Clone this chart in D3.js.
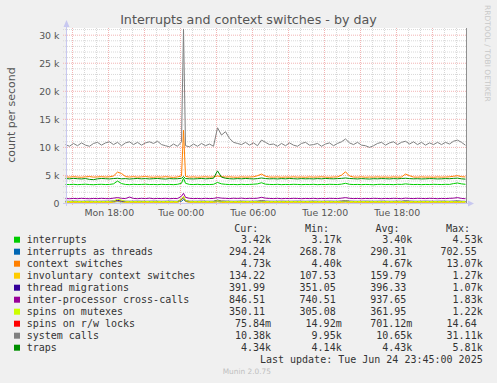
<!DOCTYPE html>
<html><head><meta charset="utf-8">
<script src="https://cdn.jsdelivr.net/npm/d3@7"></script>
<style>body{margin:0;background:#f0f0f0}svg{display:block}</style>
</head><body><svg id="c" width="497" height="383"></svg>
<script>
// ---------- data ----------
const startTime = new Date(2025, 5, 23, 14, 25); // Mon 14:25
const endTime = new Date(2025, 5, 24, 23, 45);   // Tue 23:45
// sample offsets (minutes from start): every 20 min plus the 00:15 spike sample
const sampleMinutes = [...d3.range(0, 581, 20), 590, ...d3.range(600, 2001, 20)];

const interruptsK = [
 3.40,3.38,3.42,3.36,3.40,3.44,3.38,3.35,3.40,3.42,
 3.38,3.40,3.50,4.00,3.55,3.40,3.36,3.42,3.38,3.40,
 3.44,3.38,3.40,3.36,3.42,3.38,3.40,3.36,3.42,3.60,
 4.53,
 3.60,3.40,3.38,3.42,3.36,3.40,3.38,3.42,3.75,3.50,
 3.42,3.38,3.40,3.36,3.42,3.38,3.40,3.44,3.50,3.70,
 3.45,3.40,3.38,3.42,3.36,3.40,3.38,3.42,3.40,3.36,
 3.40,3.38,3.42,3.36,3.40,3.38,3.42,3.40,3.38,3.45,
 3.60,3.42,3.38,3.40,3.36,3.40,3.38,3.34,3.40,3.42,
 3.38,3.40,3.36,3.42,3.40,3.50,3.42,3.38,3.40,3.36,
 3.40,3.38,3.42,3.40,3.38,3.42,3.40,3.55,3.65,3.50,
 3.42];
const threadsK = [
 0.29,0.29,0.30,0.29,0.28,0.29,0.29,0.30,0.29,0.29,
 0.29,0.28,0.29,0.33,0.30,0.29,0.29,0.28,0.29,0.29,
 0.30,0.29,0.29,0.28,0.29,0.29,0.30,0.29,0.29,0.40,
 0.70,
 0.35,0.29,0.29,0.28,0.29,0.30,0.29,0.29,0.34,0.30,
 0.29,0.29,0.28,0.29,0.30,0.29,0.29,0.28,0.29,0.31,
 0.29,0.29,0.30,0.29,0.28,0.29,0.29,0.30,0.29,0.29,
 0.28,0.29,0.29,0.30,0.29,0.29,0.28,0.29,0.29,0.30,
 0.32,0.29,0.29,0.28,0.29,0.29,0.30,0.29,0.29,0.28,
 0.29,0.29,0.30,0.29,0.29,0.31,0.29,0.28,0.29,0.29,
 0.29,0.30,0.29,0.28,0.29,0.29,0.30,0.29,0.31,0.29,
 0.29];
const contextSwitchesK = [
 4.75,4.70,4.78,4.72,4.68,4.75,4.80,4.70,4.74,4.78,
 4.72,4.76,4.90,5.60,5.35,4.80,4.72,4.78,4.70,4.75,
 4.80,4.72,4.68,4.75,4.70,4.78,4.72,4.66,4.74,4.90,
 13.07,
 4.85,4.70,4.74,4.68,4.72,4.76,4.70,4.74,4.90,4.78,
 4.72,4.75,4.70,4.68,4.74,4.70,4.72,4.76,4.95,5.25,
 4.85,4.72,4.70,4.74,4.68,4.72,4.70,4.75,4.70,4.72,
 4.68,4.74,4.70,4.72,4.76,4.70,4.68,4.72,4.74,5.05,
 5.65,4.90,4.72,4.70,4.75,4.68,4.72,4.70,4.74,4.70,
 4.72,4.68,4.74,4.70,4.72,5.25,4.95,4.72,4.70,4.74,
 4.70,4.72,4.68,4.74,4.70,4.72,4.76,4.85,4.95,4.78,
 4.73];
const involuntaryK = [
 0.16,0.15,0.17,0.16,0.15,0.16,0.17,0.15,0.16,0.16,
 0.15,0.16,0.22,0.45,0.30,0.16,0.15,0.16,0.17,0.15,
 0.16,0.15,0.16,0.17,0.15,0.16,0.15,0.16,0.16,0.60,
 1.27,
 0.40,0.17,0.16,0.15,0.16,0.15,0.16,0.17,0.30,0.18,
 0.16,0.15,0.16,0.17,0.15,0.16,0.15,0.16,0.17,0.22,
 0.16,0.15,0.16,0.15,0.16,0.17,0.15,0.16,0.15,0.16,
 0.15,0.16,0.17,0.15,0.16,0.15,0.16,0.15,0.16,0.18,
 0.24,0.16,0.15,0.16,0.15,0.16,0.17,0.15,0.16,0.15,
 0.16,0.15,0.16,0.17,0.15,0.20,0.16,0.15,0.16,0.15,
 0.16,0.15,0.16,0.15,0.16,0.17,0.15,0.16,0.18,0.15,
 0.13];
const migrationsK = [
 0.40,0.39,0.41,0.40,0.39,0.40,0.41,0.40,0.39,0.40,
 0.41,0.40,0.45,0.55,0.44,0.40,0.39,0.40,0.41,0.40,
 0.39,0.40,0.41,0.40,0.39,0.40,0.41,0.40,0.39,0.70,
 1.07,
 0.50,0.40,0.39,0.40,0.41,0.40,0.39,0.40,0.60,0.44,
 0.42,0.40,0.39,0.40,0.41,0.40,0.39,0.40,0.42,0.50,
 0.42,0.40,0.39,0.40,0.41,0.40,0.39,0.40,0.41,0.40,
 0.39,0.40,0.41,0.40,0.39,0.40,0.41,0.40,0.39,0.44,
 0.50,0.42,0.40,0.39,0.40,0.41,0.40,0.39,0.40,0.41,
 0.40,0.39,0.40,0.41,0.40,0.48,0.42,0.40,0.39,0.40,
 0.41,0.40,0.39,0.40,0.41,0.40,0.39,0.42,0.45,0.40,
 0.39];
const crossCallsK = [
 0.88,0.85,0.90,0.86,0.92,0.88,0.85,0.90,0.87,0.92,
 0.88,0.86,0.95,1.05,0.92,0.88,1.15,0.90,0.86,0.92,
 0.88,0.95,0.86,0.90,0.88,0.92,0.86,0.90,0.88,1.30,
 1.83,
 1.10,0.92,0.88,0.90,0.86,0.92,0.88,0.90,1.05,0.95,
 0.92,0.88,0.94,0.90,0.95,0.88,0.92,0.90,0.94,1.10,
 0.95,0.90,0.88,0.92,0.86,0.90,0.88,0.92,0.90,0.86,
 0.90,0.88,0.92,0.86,0.90,0.88,0.92,0.90,0.88,0.95,
 1.05,0.92,0.88,0.90,0.86,0.90,0.88,0.92,0.90,0.86,
 0.90,0.88,0.92,0.90,0.86,0.95,0.90,0.88,0.92,0.90,
 0.88,0.92,0.90,0.86,0.90,0.88,0.92,0.95,1.05,0.90,
 0.85];
const mutexesK = [
 0.36,0.35,0.37,0.36,0.35,0.36,0.37,0.35,0.36,0.36,
 0.35,0.36,0.45,0.75,0.60,0.38,0.36,0.35,0.36,0.37,
 0.36,0.35,0.36,0.37,0.35,0.36,0.35,0.36,0.36,0.80,
 1.22,
 0.55,0.37,0.36,0.35,0.36,0.35,0.36,0.37,0.50,0.40,
 0.37,0.36,0.35,0.36,0.37,0.35,0.36,0.35,0.37,0.42,
 0.36,0.35,0.36,0.35,0.36,0.37,0.35,0.36,0.35,0.36,
 0.35,0.36,0.37,0.35,0.36,0.35,0.36,0.35,0.36,0.38,
 0.44,0.36,0.35,0.36,0.35,0.36,0.37,0.35,0.36,0.35,
 0.36,0.35,0.36,0.37,0.35,0.40,0.36,0.35,0.36,0.35,
 0.36,0.35,0.36,0.35,0.36,0.37,0.35,0.36,0.38,0.36,
 0.35];
const rwLocksK = [
 0.0007,0.0006,0.0008,0.0007,0.0005,0.0007,0.0008,0.0006,0.0007,0.0007,
 0.0006,0.0007,0.0009,0.0030,0.0012,0.0007,0.0006,0.0007,0.0008,0.0006,
 0.0007,0.0006,0.0007,0.0008,0.0006,0.0007,0.0006,0.0007,0.0007,0.0060,
 0.0146,
 0.0020,0.0007,0.0006,0.0007,0.0008,0.0006,0.0007,0.0006,0.0015,0.0008,
 0.0007,0.0006,0.0007,0.0008,0.0006,0.0007,0.0006,0.0007,0.0008,0.0010,
 0.0007,0.0006,0.0007,0.0006,0.0007,0.0008,0.0006,0.0007,0.0006,0.0007,
 0.0006,0.0007,0.0008,0.0006,0.0007,0.0006,0.0007,0.0006,0.0007,0.0009,
 0.0011,0.0007,0.0006,0.0007,0.0006,0.0007,0.0008,0.0006,0.0007,0.0006,
 0.0007,0.0006,0.0007,0.0008,0.0006,0.0009,0.0007,0.0006,0.0007,0.0006,
 0.0007,0.0006,0.0007,0.0006,0.0007,0.0008,0.0006,0.0007,0.0009,0.0007,
 0.0001];
const systemCallsK = [
 10.5,10.2,10.7,10.3,10.8,10.4,10.2,10.7,10.9,10.4,
 10.8,11.0,10.5,10.9,10.3,10.8,11.0,10.5,10.9,10.4,
 10.8,11.0,10.7,11.1,10.5,10.3,10.1,10.6,10.2,11.0,
 31.11,
 10.3,10.1,10.6,10.2,10.7,10.3,10.6,10.2,13.5,12.2,
 12.8,11.6,10.9,10.7,10.5,10.9,10.4,10.8,10.3,11.3,
 10.9,10.5,10.6,10.2,10.7,10.3,10.8,10.4,10.2,10.7,
 10.9,10.4,10.5,10.7,10.2,10.6,10.8,10.3,10.7,11.0,
 11.5,10.8,10.5,10.9,10.4,10.3,10.0,10.3,10.7,10.9,
 10.4,10.8,11.0,10.5,10.9,11.1,10.6,11.0,10.5,10.9,
 10.4,10.8,10.5,10.9,10.5,10.9,10.6,11.1,11.3,10.9,
 10.38];
const trapsK = [
 4.45,4.40,4.48,4.42,4.38,4.45,4.30,4.25,4.40,4.46,
 4.42,4.38,4.45,4.50,4.40,4.44,4.36,4.42,4.46,4.40,
 4.44,4.38,4.42,4.46,4.40,4.36,4.44,4.40,4.42,4.50,
 4.80,
 4.45,4.40,4.38,4.42,4.46,4.40,4.44,4.50,5.81,4.70,
 4.50,4.42,4.38,4.44,4.40,4.46,4.42,4.38,4.44,4.55,
 4.45,4.40,4.42,4.38,4.44,4.40,4.46,4.42,4.38,4.44,
 4.40,4.42,4.38,4.44,4.40,4.46,4.42,4.40,4.44,4.48,
 4.55,4.46,4.42,4.38,4.44,4.40,4.36,4.42,4.40,4.44,
 4.42,4.38,4.44,4.40,4.46,4.50,4.44,4.40,4.42,4.38,
 4.40,4.44,4.42,4.38,4.40,4.44,4.42,4.48,4.52,4.40,
 4.34];

const seriesNames = ["interrupts","interrupts as threads","context switches",
  "involuntary context switches","thread migrations","inter-processor cross-calls",
  "spins on mutexes","spins on r/w locks","system calls","traps"];
const seriesColors = ["#00cc00","#0066b3","#ff8000","#ffcc00","#330099","#990099",
  "#ccff00","#ff0000","#808080","#008f00"];
const seriesValues = [interruptsK, threadsK, contextSwitchesK, involuntaryK, migrationsK,
  crossCallsK, mutexesK, rwLocksK, systemCallsK, trapsK];

const curValues = ["3.42k","294.24","4.73k","134.22","391.99","846.51","350.11","75.84m","10.38k","4.34k"];
const minValues = ["3.17k","268.78","4.40k","107.53","351.05","740.51","305.08","14.92m","9.95k","4.14k"];
const avgValues = ["3.40k","290.31","4.67k","159.79","396.33","937.65","361.95","701.12m","10.65k","4.43k"];
const maxValues = ["4.53k","702.55","13.07k","1.27k","1.07k","1.83k","1.22k","14.64","31.11k","5.81k"];
const columnHeaders = ["Cur:","Min:","Avg:","Max:"];

const yTicksK = [0,5,10,15,20,25,30];
const yTickLabels = ["0","5 k","10 k","15 k","20 k","25 k","30 k"];
const xLabelTimes = [new Date(2025,5,23,18,0), new Date(2025,5,24,0,0), new Date(2025,5,24,6,0),
  new Date(2025,5,24,12,0), new Date(2025,5,24,18,0)];
const xLabelTexts = ["Mon 18:00","Tue 00:00","Tue 06:00","Tue 12:00","Tue 18:00"];

// ---------- drawing ----------
const svg = d3.select("#c");
const sans = "'DejaVu Sans', sans-serif";
const mono = "'DejaVu Sans Mono', monospace";

const x = d3.scaleTime().domain([startTime, endTime]).range([65.5, 465.5]);
const y = d3.scaleLinear().domain([0, 31.19]).range([203.5, 28.5]);
const tAt = m => new Date(startTime.getTime() + m * 60000);

// plot background
svg.append("rect").attr("x", 66).attr("y", 28).attr("width", 400).attr("height", 175).attr("fill", "#ffffff");

// grid
const minorColor = "#d8d8d8", majorColor = "#f2b4b4";
const g = svg.append("g");
d3.range(0, 32, 1).forEach(v => {
  if (v % 5 === 0) return;
  g.append("line").attr("x1", 63).attr("x2", 466).attr("y1", y(v)).attr("y2", y(v))
    .attr("stroke", minorColor).attr("stroke-dasharray", "1,1");
});
const hours = d3.timeHour.range(startTime, endTime);
hours.forEach(h => {
  if (h.getHours() % 3 === 0) return;
  g.append("line").attr("x1", x(h)).attr("x2", x(h)).attr("y1", 28).attr("y2", 206)
    .attr("stroke", minorColor).attr("stroke-dasharray", "1,1");
});
yTicksK.forEach(v => {
  g.append("line").attr("x1", 63).attr("x2", 466).attr("y1", y(v)).attr("y2", y(v))
    .attr("stroke", majorColor).attr("stroke-dasharray", "1,1");
});
hours.filter(h => h.getHours() % 3 === 0).forEach(h => {
  g.append("line").attr("x1", x(h)).attr("x2", x(h)).attr("y1", 28).attr("y2", 206)
    .attr("stroke", majorColor).attr("stroke-dasharray", "1,1");
});

// series lines
const line = d3.line().x(d => x(tAt(d[0]))).y(d => y(d[1]));
seriesValues.forEach((vals, k) => {
  const pts = sampleMinutes.map((m, i) => [m, vals[i]]);
  svg.append("path").attr("d", line(pts)).attr("fill", "none")
    .attr("stroke", seriesColors[k]).attr("stroke-width", 1);
});

// right frame
svg.append("line").attr("x1", 466.5).attr("x2", 466.5).attr("y1", 28).attr("y2", 203)
  .attr("stroke", "#909090");

// axes
const axisColor = "#c8c8f0";
svg.append("line").attr("x1", 66.5).attr("x2", 66.5).attr("y1", 25).attr("y2", 206).attr("stroke", axisColor);
svg.append("path").attr("d", "M63.5,27 L69.5,27 L66.5,20 Z").attr("fill", axisColor);
svg.append("line").attr("x1", 63).attr("x2", 469).attr("y1", 203.5).attr("y2", 203.5).attr("stroke", axisColor);
svg.append("path").attr("d", "M468,200.5 L468,206.5 L474,203.5 Z").attr("fill", axisColor);

// y tick labels
yTicksK.forEach((v, i) => {
  svg.append("text").attr("x", 59.5).attr("y", y(v) + 3.4).attr("text-anchor", "end")
    .attr("font-family", sans).attr("font-size", "9.4px").attr("fill", "#555")
    .text(yTickLabels[i]);
});
// x labels
xLabelTimes.forEach((t, i) => {
  svg.append("text").attr("x", x(t) + 0.8).attr("y", 216).attr("text-anchor", "middle")
    .attr("font-family", sans).attr("font-size", "9.4px").attr("fill", "#555")
    .text(xLabelTexts[i]);
});

// title
svg.append("text").attr("x", 248.5).attr("y", 23.5).attr("text-anchor", "middle")
  .attr("font-family", sans).attr("font-size", "12.7px").attr("fill", "#555")
  .text("Interrupts and context switches - by day");
// y label
svg.append("text").attr("transform", "translate(15,115) rotate(-90)").attr("text-anchor", "middle")
  .attr("font-family", sans).attr("font-size", "11px").attr("fill", "#555")
  .text("count per second");
// watermark
svg.append("text").attr("transform", "translate(485,5) rotate(90)").attr("text-anchor", "start")
  .attr("font-family", sans).attr("font-size", "7.5px").attr("fill", "#c8c8c8")
  .text("RRDTOOL / TOBI OETIKER");

// legend
const colEnds = [271, 341.7, 412.3, 482.7];
const cols = [curValues, minValues, avgValues, maxValues];
columnHeaders.forEach((h, j) => {
  svg.append("text").attr("x", colEnds[j] - 12.7).attr("y", 231.8).attr("text-anchor", "end")
    .attr("font-family", mono).attr("font-size", "10px").attr("fill", "#333").text(h);
});
seriesNames.forEach((name, i) => {
  const cy = 239.7 + 12 * i;
  svg.append("rect").attr("x", 14).attr("y", cy - 3).attr("width", 6).attr("height", 6)
    .attr("fill", seriesColors[i]);
  svg.append("text").attr("x", 26.7).attr("y", cy + 3.5)
    .attr("font-family", mono).attr("font-size", "10px").attr("fill", "#333").text(name);
  cols.forEach((col, j) => {
    const s = col[i];
    const hasSuffix = /[a-z]$/.test(s);
    svg.append("text").attr("x", colEnds[j] - (hasSuffix ? 0 : 6)).attr("y", cy + 3.5)
      .attr("text-anchor", "end").attr("font-family", mono).attr("font-size", "10px")
      .attr("fill", "#333").text(s);
  });
});
svg.append("text").attr("x", 482.7).attr("y", 362.8).attr("text-anchor", "end")
  .attr("font-family", mono).attr("font-size", "10px").attr("fill", "#333")
  .text("Last update: Tue Jun 24 23:45:00 2025");
svg.append("text").attr("x", 222.7).attr("y", 374.3)
  .attr("font-family", sans).attr("font-size", "7.4px").attr("fill", "#c0c0c0")
  .text("Munin 2.0.75");
</script></body></html>
